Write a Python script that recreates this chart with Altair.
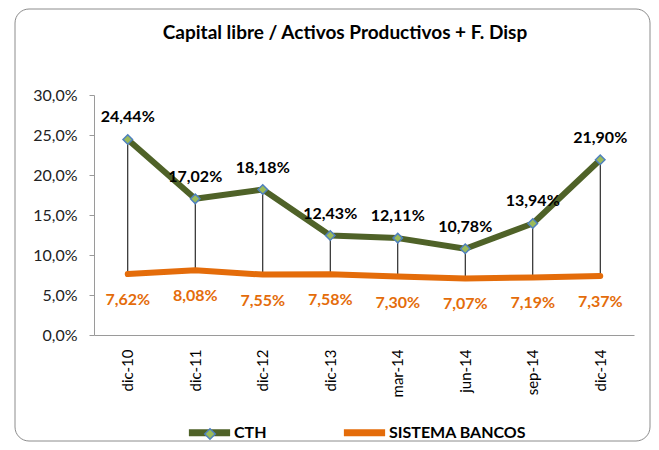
import altair as alt
import pandas as pd

categories = ["dic-10", "dic-11", "dic-12", "dic-13", "mar-14", "jun-14", "sep-14", "dic-14"]
cth = [24.44, 17.02, 18.18, 12.43, 12.11, 10.78, 13.94, 21.90]
bancos = [7.62, 8.08, 7.55, 7.58, 7.30, 7.07, 7.19, 7.37]
series_names = ["CTH", "SISTEMA BANCOS"]
y_ticks = [0, 0.05, 0.10, 0.15, 0.20, 0.25, 0.30]
title_text = "Capital libre / Activos Productivos + F. Disp"

FONT = "Lato"

wide = pd.DataFrame({"cat": categories, "cth": [v / 100 for v in cth], "bancos": [v / 100 for v in bancos]})
long = pd.concat([
    pd.DataFrame({"cat": categories, "serie": series_names[0], "v": [v / 100 for v in cth]}),
    pd.DataFrame({"cat": categories, "serie": series_names[1], "v": [v / 100 for v in bancos]}),
])

xscale = alt.Scale(type="point", padding=0.5)
xaxis = alt.Axis(labelAngle=-90, ticks=False, labelPadding=14, labelFontSize=15,
                 labelFont=FONT, labelColor="#000", domainColor="#9a9a9a")
yscale = alt.Scale(domain=[0, 0.30])
yaxis = alt.Axis(values=y_ticks, grid=False, tickSize=5, tickColor="#9a9a9a",
                 domainColor="#9a9a9a", labelFontSize=16, labelFont=FONT,
                 labelColor="#222", labelPadding=12, labelOverlap=False,
                 labelExpr="replace(format(datum.value, '.1%'), '.', ',')")


def X():
    return alt.X("cat:N", sort=categories, title=None, scale=xscale, axis=xaxis)


def Y(field):
    return alt.Y(field, title=None, scale=yscale, axis=yaxis)


color = alt.Color("serie:N", scale=alt.Scale(domain=series_names, range=["#4F6228", "#E46C0A"]),
                  legend=alt.Legend(title=None, orient="none", legendX=91, legendY=313,
                                    direction="horizontal", symbolType="stroke",
                                    symbolStrokeWidth=7, symbolSize=1700,
                                    labelFont=FONT, labelFontSize=16, labelFontWeight="bold",
                                    labelColor="#000", columnPadding=62, labelOffset=0))

marker_fill = alt.Fill("serie:N", scale=alt.Scale(domain=["CTH"], range=["#9BBB59"]),
                       legend=alt.Legend(title=None, orient="none", legendX=110, legendY=333,
                                         symbolType="diamond", symbolSize=110,
                                         symbolStrokeColor="#4F81BD", symbolStrokeWidth=1.5,
                                         labelOpacity=0, labelFontSize=1))

base = alt.Chart(long)
one = pd.DataFrame({"t": [title_text]})

border = alt.Chart(one).mark_rect(
    fill="transparent", stroke="#8c8c8c", strokeWidth=1, cornerRadius=14
).encode(x=alt.value(-79), x2=alt.value(556), y=alt.value(-86), y2=alt.value(346))

title = alt.Chart(one).mark_text(font=FONT, fontSize=19, fontWeight="bold", color="#000",
                                 align="center", baseline="middle").encode(
    x=alt.value(251), y=alt.value(-62), text="t:N")

rules = alt.Chart(wide).mark_rule(color="#000", strokeWidth=1).encode(
    x=X(), y=Y("cth:Q"), y2="bancos:Q")

lines = base.mark_line(strokeWidth=6, strokeCap="round", strokeJoin="round").encode(
    x=X(), y=Y("v:Q"), color=color)

points = base.transform_filter(alt.datum.serie == "CTH").mark_point(
    shape="diamond", size=90, filled=True, stroke="#4F81BD", strokeWidth=1.5, opacity=1
).encode(x=X(), y=Y("v:Q"), fill=marker_fill)

lab_cth = base.transform_filter(alt.datum.serie == "CTH").transform_calculate(
    t="replace(format(datum.v, '.2%'), '.', ',')"
).mark_text(font=FONT, fontSize=16, fontWeight="bold", color="#000", baseline="middle", dy=-22).encode(
    x=X(), y=Y("v:Q"), text="t:N")

lab_ban = base.transform_filter(alt.datum.serie == "SISTEMA BANCOS").transform_calculate(
    t="replace(format(datum.v, '.2%'), '.', ',')"
).mark_text(font=FONT, fontSize=16, fontWeight="bold", color="#E46C0A", baseline="middle", dy=26).encode(
    x=X(), y=Y("v:Q"), text="t:N")

chart = alt.layer(border, title, rules, lines, points, lab_cth, lab_ban).properties(
    width=540, height=240,
    autosize=alt.AutoSizeParams(type="none"),
    padding={"left": 86, "top": 87, "right": 17, "bottom": 107},
    background="white",
).configure_view(stroke=None)

chart.save("out.html", embed_options={"renderer": "svg", "actions": False})
